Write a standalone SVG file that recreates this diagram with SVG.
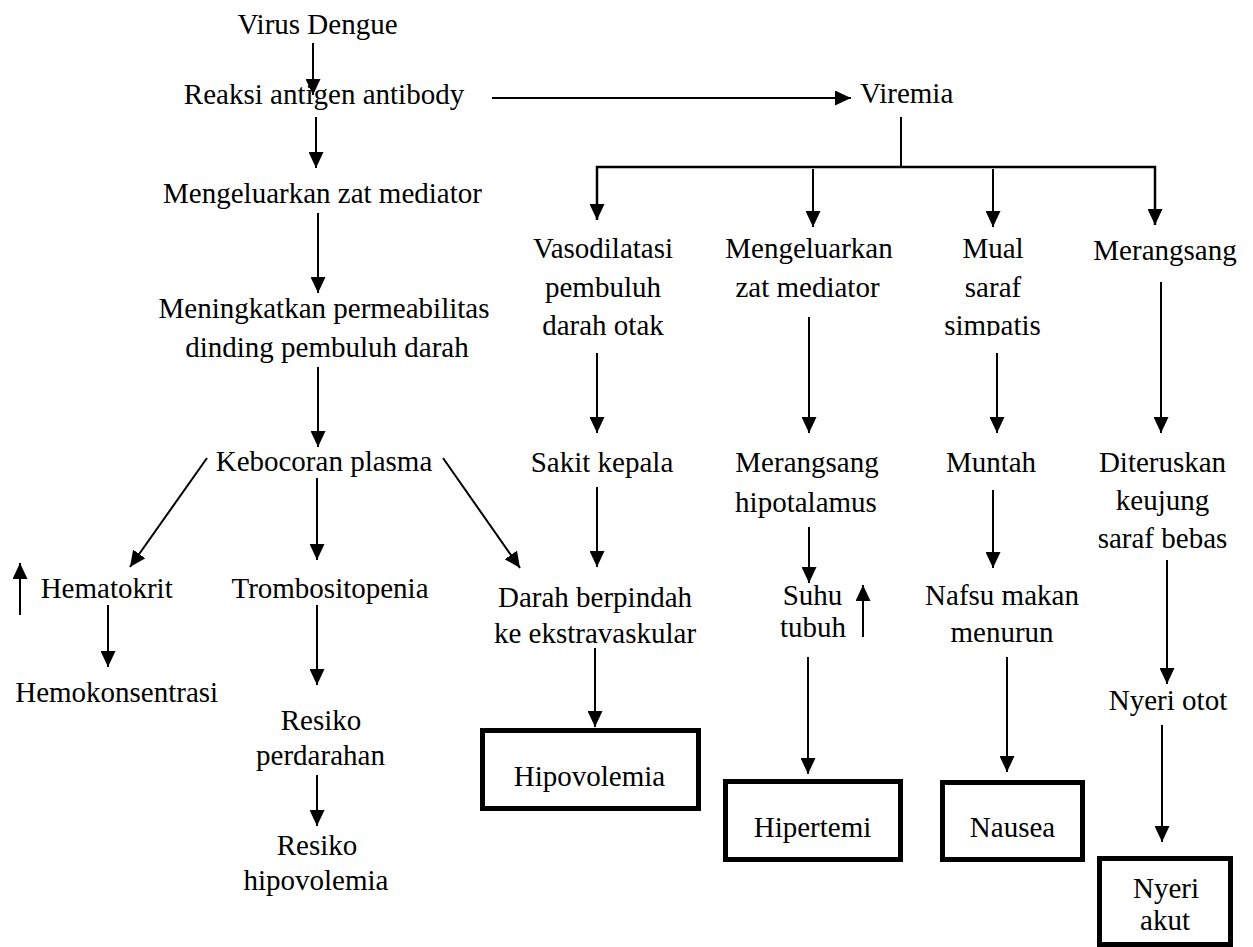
<svg xmlns="http://www.w3.org/2000/svg" width="1253" height="947" viewBox="0 0 1253 947">
<style>
text{font-family:"Liberation Serif","Times New Roman",serif;font-size:29px;fill:#000;text-anchor:middle}
.c line,.c polyline{stroke:#000;stroke-width:2;fill:none}
.c .a{marker-end:url(#ah)}
.box{fill:none;stroke:#000;stroke-width:5}
</style>
<defs>
<marker id="ah" markerUnits="userSpaceOnUse" markerWidth="16" markerHeight="15" refX="16" refY="7.5" orient="auto"><path d="M0,0 L16,7.5 L0,15 z" fill="#000"/></marker>
<clipPath id="clipS"><rect x="900" y="300" width="200" height="36"/></clipPath>
</defs>
<rect width="1253" height="947" fill="#fff"/>
<g id="n-virus"><text x="317.5" y="34">Virus Dengue</text></g>
<g id="n-reaksi"><text x="324" y="104">Reaksi antigen antibody</text></g>
<g id="n-viremia"><text x="860" y="103" style="text-anchor:start">Viremia</text></g>
<g id="n-mengeluarkan1"><text x="322.5" y="203">Mengeluarkan zat mediator</text></g>
<g id="n-meningkatkan"><text x="324" y="318">Meningkatkan permeabilitas</text><text x="327" y="357">dinding pembuluh darah</text></g>
<g id="n-kebocoran"><text x="324" y="471">Kebocoran plasma</text></g>
<g id="n-hematokrit"><text x="106.7" y="598">Hematokrit</text></g>
<g id="n-hemokonsentrasi"><text x="116.7" y="702">Hemokonsentrasi</text></g>
<g id="n-trombo"><text x="330" y="598">Trombositopenia</text></g>
<g id="n-resiko1"><text x="321" y="730">Resiko</text><text x="320.5" y="765">perdarahan</text></g>
<g id="n-resiko2"><text x="317" y="855">Resiko</text><text x="316" y="890">hipovolemia</text></g>
<g id="n-vaso"><text x="603" y="258">Vasodilatasi</text><text x="603" y="297">pembuluh</text><text x="603" y="335">darah otak</text></g>
<g id="n-sakit"><text x="602" y="472">Sakit kepala</text></g>
<g id="n-darah"><text x="595" y="607">Darah berpindah</text><text x="595" y="643">ke ekstravaskular</text></g>
<g id="n-hipovolemia"><rect class="box" x="482.5" y="730.5" width="216" height="78"/><text x="589.5" y="786">Hipovolemia</text></g>
<g id="n-mengeluarkan2"><text x="809" y="258">Mengeluarkan</text><text x="807.5" y="297">zat mediator</text></g>
<g id="n-merangsang1"><text x="807" y="472">Merangsang</text><text x="806" y="512">hipotalamus</text></g>
<g id="n-suhu"><text x="812.5" y="605">Suhu</text><text x="813" y="637">tubuh</text></g>
<g id="n-hipertemi"><rect class="box" x="725.5" y="781.5" width="175" height="78"/><text x="812.5" y="837">Hipertemi</text></g>
<g id="n-mual"><text x="993" y="258">Mual</text><text x="993" y="297">saraf</text><text x="992.5" y="335" clip-path="url(#clipS)">simpatis</text></g>
<g id="n-muntah"><text x="991" y="472">Muntah</text></g>
<g id="n-nafsu"><text x="1002" y="605">Nafsu makan</text><text x="1002" y="642">menurun</text></g>
<g id="n-nausea"><rect class="box" x="942.5" y="782.5" width="140" height="77"/><text x="1012.5" y="837">Nausea</text></g>
<g id="n-merangsang2"><text x="1165" y="260">Merangsang</text></g>
<g id="n-diteruskan"><text x="1162.5" y="472">Diteruskan</text><text x="1162.5" y="510">keujung</text><text x="1162.5" y="548">saraf bebas</text></g>
<g id="n-nyeriotot"><text x="1168" y="710">Nyeri otot</text></g>
<g id="n-nyeriakut"><rect class="box" x="1099.5" y="858.5" width="131" height="86"/><text x="1166" y="898">Nyeri</text><text x="1165" y="930">akut</text></g>
<g id="connectors" class="c">
<line class="a" x1="313" y1="43" x2="313" y2="95"/>
<line class="a" x1="492" y1="98" x2="851" y2="98"/>
<line class="a" x1="316" y1="117" x2="316" y2="168"/>
<line class="a" x1="318" y1="213" x2="318" y2="293"/>
<line class="a" x1="318" y1="367" x2="318" y2="447"/>
<line class="a" x1="207" y1="458" x2="130" y2="567"/>
<line class="a" x1="317" y1="478" x2="317" y2="560"/>
<line class="a" x1="443" y1="458" x2="520" y2="568"/>
<line class="a" x1="20" y1="615" x2="20" y2="563"/>
<line class="a" x1="108" y1="605" x2="108" y2="667"/>
<line class="a" x1="317" y1="605" x2="317" y2="685"/>
<line class="a" x1="317" y1="775" x2="317" y2="826"/>
<line x1="901" y1="117" x2="901" y2="167"/>
<polyline class="a" points="597,220 597,167 1155,167 1155,225" style="marker-end:url(#ah);stroke-width:2.5"/>
<line class="a" x1="597" y1="167" x2="597" y2="220"/>
<line class="a" x1="813" y1="169" x2="813" y2="227"/>
<line class="a" x1="993" y1="169" x2="993" y2="227"/>
<line class="a" x1="597" y1="353" x2="597" y2="433"/>
<line class="a" x1="597" y1="487" x2="597" y2="567"/>
<line class="a" x1="595" y1="648" x2="595" y2="727"/>
<line class="a" x1="809" y1="317" x2="809" y2="433"/>
<line class="a" x1="809" y1="527" x2="809" y2="583"/>
<line class="a" x1="863" y1="637" x2="863" y2="585"/>
<line class="a" x1="808" y1="657" x2="808" y2="774"/>
<line class="a" x1="997" y1="353" x2="997" y2="433"/>
<line class="a" x1="993" y1="490" x2="993" y2="568"/>
<line class="a" x1="1007" y1="657" x2="1007" y2="772"/>
<line class="a" x1="1161" y1="282" x2="1161" y2="433"/>
<line class="a" x1="1167" y1="560" x2="1167" y2="684"/>
<line class="a" x1="1162" y1="725" x2="1162" y2="842"/>
</g>
</svg>
